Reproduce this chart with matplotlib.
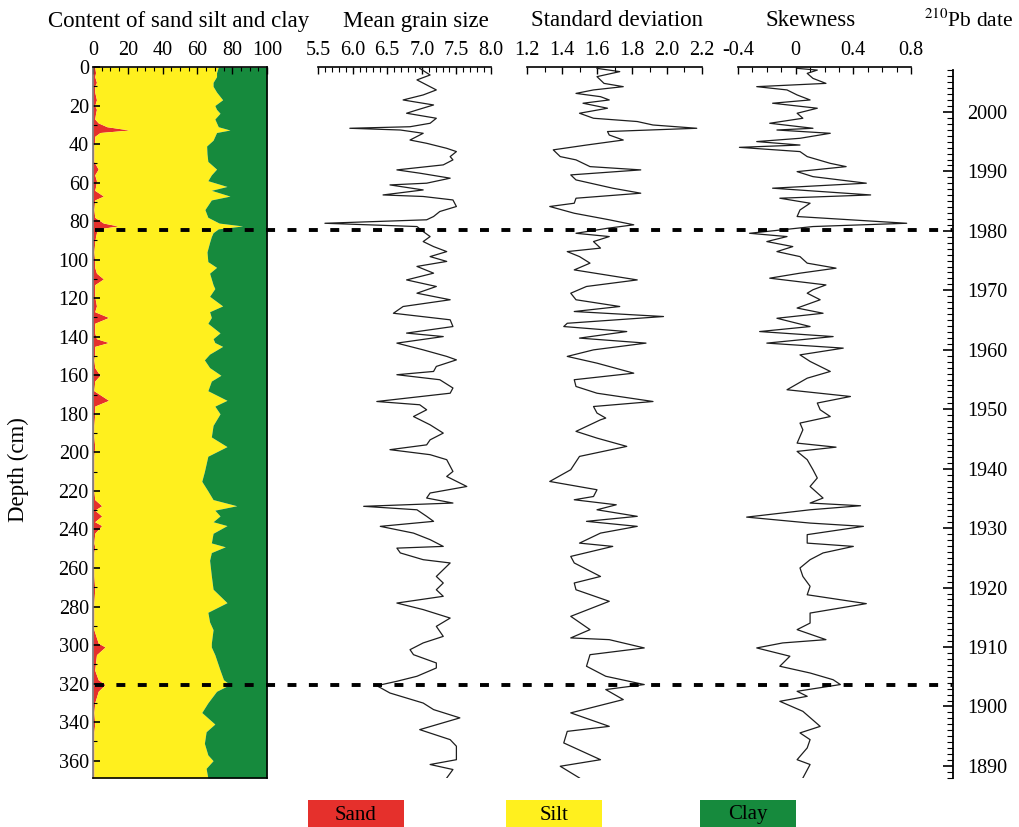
import matplotlib
matplotlib.use('Agg')
import matplotlib.pyplot as plt
from matplotlib.ticker import MultipleLocator
from matplotlib.patches import Rectangle

plt.rcParams['font.family'] = ['Liberation Serif', 'DejaVu Serif']
plt.rcParams['mathtext.fontset'] = 'stix'

# ---------------- data ----------------
depth_comp = [0, 3, 5, 8, 10, 13, 17, 20, 22, 24, 27, 29, 31, 32.7, 34, 36, 38, 41, 45, 49,
              53, 56, 59, 62, 64, 67, 69, 74, 78, 81, 82.5, 84, 86, 88, 91, 96, 101, 104, 107, 110,
              113, 115, 119, 124, 127, 130, 133, 138, 141, 143, 145, 149, 152, 156, 160, 163, 168, 173, 176, 180,
              186, 192, 197, 202, 210, 215, 220, 224.5, 227.7, 230, 233, 236, 238, 242, 247, 249, 252, 256, 264, 271,
              278, 283, 288, 292, 299, 301, 305, 313, 318, 320.5, 324, 330, 335, 341, 345, 351, 357, 360, 364, 369]
sand = [1, 1.5, 1, 2, 1, 1, 2, 1, 2, 1.5, 1, 3, 8, 21, 4, 1, 1, 0.5, 0.5, 0.5,
        3, 1, 2, 1.5, 1, 6, 1, 0.5, 1, 6, 14.5, 3, 2, 1.5, 1, 0.5, 1, 1, 2, 6,
        1, 1, 1, 2, 1, 9, 1, 1, 2, 9, 1, 1, 0.5, 1, 4, 1, 0.5, 9, 1, 1,
        0.5, 0.5, 1, 0.5, 0.5, 0.5, 0.5, 1, 5, 1, 5, 1, 5, 1, 0.5, 1, 0.5, 0.5, 0.5, 1,
        0.5, 0.5, 0.5, 0.5, 3, 7, 2, 1, 3, 7, 3, 1, 0.5, 1, 0.5, 0.5, 0.5, 0.5, 0.5, 0.5]
silt = [71, 69.5, 70, 67, 68, 70, 72.5, 69, 69, 71.5, 69, 68, 64, 57.7, 67, 69, 68, 64.8, 65, 65.5,
        68, 67, 64, 75.5, 67, 72.7, 67, 63.8, 65, 66.5, 71.5, 69, 67, 66.5, 66, 65, 65, 70, 65, 62,
        68, 69, 66, 72.5, 66, 59, 65, 72, 67, 61, 73.5, 66, 63.5, 66, 69.5, 67, 65.5, 68, 69, 72,
        68.5, 67.5, 76, 65.5, 63.5, 62, 65.5, 68, 77.6, 69, 68, 68, 72, 68, 67.5, 75, 67.5, 66.5, 67.5, 68,
        76.5, 65.5, 66.5, 68.5, 65, 61, 68, 72, 72, 71.7, 68, 65, 62, 69, 64.5, 63.5, 65.5, 68.5, 64.5, 65.5]
clay = [28, 29, 29, 31, 31, 29, 25.5, 30, 29, 27, 30, 29, 28, 21.3, 29, 30, 31, 34.7, 34.5, 34,
        29, 32, 34, 23, 32, 21.3, 32, 35.7, 34, 27.5, 14, 28, 31, 32, 33, 34.5, 34, 29, 33, 32,
        31, 30, 33, 25.5, 33, 32, 34, 27, 31, 30, 25.5, 33, 36, 33, 26.5, 32, 34, 23, 30, 27,
        31, 32, 23, 34, 36, 37.5, 34, 31, 17.4, 30, 27, 31, 23, 31, 32, 24, 32, 33, 32, 31,
        23, 34, 33, 31, 32, 32, 30, 27, 25, 21.3, 29, 34, 37.5, 30, 35, 36, 34, 31, 35, 34]

depth_mean = [0.7, 4.15, 6.7, 9.3, 11.9, 14.5, 17.1, 18.0, 19.7, 22.3, 24.0, 26.6, 29.2, 31.0, 31.8, 32.7,
              34.4, 37.9, 39.6, 42.2, 43.9, 46.5, 48.2, 50.8, 53.4, 55.1, 57.7, 60.3, 61.2, 63.8, 66.4, 67.2,
              69.0, 72.4, 75.0, 77.6, 79.3, 81.1, 82.8, 85.4, 88.0, 90.6, 93.2, 95.8, 98.4, 100.9, 103.5, 107.0,
              110.5, 113.9, 117.4, 120.8, 124.3, 127.8, 131.2, 134.7, 138.1, 139.9, 143.3, 146.8, 150.2, 152.0,
              155.4, 158.0, 159.7, 162.3, 166.6, 169.3, 173.6, 175.3, 177.9, 181.4, 185.7, 190.0, 193.5, 196.1,
              198.6, 201.2, 203.8, 209.9, 212.5, 217.7, 221.1, 223.7, 226.3, 228.0, 229.8, 233.2, 235.8, 238.4,
              241.9, 245.3, 248.8, 249.7, 252.2, 255.7, 257.4, 260.9, 264.4, 267.8, 271.3, 274.7, 278.2, 281.6,
              286.0, 290.3, 295.5, 298.9, 302.4, 305.0, 309.3, 311.9, 316.2, 318.8, 321.1, 324.9, 330.1, 333.5,
              337.8, 343.9, 349.1, 352.5, 359.5, 362.0, 364.6, 369]
mean_size = [6.97, 7.12, 6.93, 7.07, 7.21, 7.02, 6.73, 6.88, 7.17, 6.93, 6.78, 7.21, 7.12, 6.83, 5.96, 6.69,
             7.02, 6.83, 7.07, 7.36, 7.50, 7.41, 7.45, 7.31, 6.64, 6.97, 7.41, 7.07, 6.54, 7.02, 6.44, 7.02,
             7.45, 7.50, 7.26, 7.17, 7.07, 5.60, 6.93, 7.02, 7.12, 7.02, 7.17, 7.36, 7.12, 7.36, 6.93, 7.17,
             6.78, 7.21, 6.93, 7.41, 6.73, 6.59, 7.41, 7.45, 6.78, 7.31, 6.64, 7.02, 7.36, 7.50,
             7.21, 7.17, 6.64, 7.26, 7.45, 7.41, 6.35, 6.97, 7.07, 6.88, 7.12, 7.31, 7.12, 7.07,
             6.54, 7.12, 7.36, 7.45, 7.36, 7.65, 7.12, 7.07, 7.45, 6.16, 6.93, 7.07, 7.17, 6.40,
             6.88, 7.12, 7.31, 6.64, 6.69, 7.02, 7.41, 7.31, 7.21, 7.31, 7.21, 7.31, 6.64, 7.02,
             7.41, 7.21, 7.31, 7.02, 6.83, 6.88, 7.21, 7.21, 6.93, 6.64, 6.35, 6.54, 7.02, 7.17,
             7.55, 6.97, 7.41, 7.50, 7.50, 7.12, 7.45, 7.36]

depth_std = [0.7, 2.4, 5.0, 8.5, 10.2, 11.9, 13.7, 15.4, 17.1, 18.8, 21.4, 24.0, 26.6, 28.3, 30.1, 31.8,
             33.5, 35.3, 37.9, 40.5, 43.0, 46.5, 48.2, 51.7, 53.4, 56.0, 58.6, 62.9, 65.5, 68.1, 70.7, 72.4,
             75.9, 79.3, 81.9, 83.7, 86.3, 88.0, 90.6, 94.0, 95.8, 98.4, 101.8, 105.3, 110.5, 113.9, 117.4, 120.8,
             124.3, 126.9, 129.5, 133.0, 134.7, 137.3, 140.7, 143.3, 146.8, 150.2, 153.7, 158.9, 162.3, 165.8,
             169.3, 173.6, 176.2, 179.6, 182.2, 183.1, 189.1, 192.6, 196.9, 202.1, 209.0, 215.1, 219.4, 222.9,
             224.6, 227.2, 229.8, 233.2, 235.8, 238.4, 241.9, 247.1, 248.8, 254.0, 257.4, 264.4, 267.8, 271.3,
             277.3, 285.1, 292.0, 296.3, 297.2, 301.5, 305.0, 311.0, 316.2, 320.5, 323.1, 328.3, 335.2, 342.2,
             344.8, 350.8, 359.5, 362.9, 369]
std_dev = [1.60, 1.73, 1.60, 1.64, 1.75, 1.58, 1.48, 1.62, 1.67, 1.52, 1.66, 1.50, 1.58, 1.83, 1.92, 2.17,
           1.66, 1.67, 1.75, 1.54, 1.35, 1.39, 1.48, 1.56, 1.85, 1.45, 1.48, 1.69, 1.85, 1.48, 1.47, 1.33,
           1.47, 1.67, 1.81, 1.66, 1.48, 1.67, 1.58, 1.62, 1.43, 1.50, 1.56, 1.47, 1.83, 1.54, 1.45, 1.48,
           1.73, 1.47, 1.98, 1.43, 1.41, 1.77, 1.50, 1.88, 1.58, 1.43, 1.60, 1.81, 1.47, 1.48,
           1.60, 1.92, 1.58, 1.60, 1.65, 1.62, 1.48, 1.60, 1.77, 1.50, 1.45, 1.33, 1.60, 1.58,
           1.47, 1.71, 1.60, 1.83, 1.54, 1.83, 1.62, 1.50, 1.69, 1.45, 1.47, 1.62, 1.47, 1.48,
           1.67, 1.45, 1.56, 1.45, 1.67, 1.87, 1.56, 1.54, 1.65, 1.87, 1.65, 1.75, 1.45, 1.67,
           1.43, 1.41, 1.62, 1.39, 1.50]

depth_skew = [0.7, 1.6, 3.3, 5.9, 8.5, 10.2, 11.9, 14.5, 17.1, 18.8, 21.4, 24.0, 26.6, 29.2, 31.8, 32.7,
              34.4, 37.0, 38.7, 40.5, 41.7, 43.9, 46.5, 50.0, 51.7, 54.3, 56.9, 60.3, 62.9, 66.4, 68.1, 70.7,
              74.2, 77.6, 81.1, 82.8, 86.3, 88.0, 90.6, 93.2, 95.8, 98.4, 101.8, 104.4, 107.0, 109.6, 113.1, 115.6,
              117.4, 120.8, 125.1, 127.8, 130.4, 134.7, 137.3, 139.9, 143.3, 145.9, 149.4, 152.8, 158.0, 161.5,
              167.5, 171.0, 174.4, 177.9, 181.4, 184.8, 188.3, 195.2, 197.3, 199.5, 203.8, 209.0, 213.3, 217.7,
              223.7, 226.3, 227.7, 229.8, 233.6, 236.7, 238.4, 242.7, 247.1, 248.8, 252.2, 255.7, 260.0, 264.4,
              269.5, 273.9, 278.5, 283.4, 288.6, 292.0, 297.2, 298.9, 301.5, 305.8, 311.0, 314.5, 318.0, 320.5,
              324.0, 326.6, 329.2, 334.4, 342.2, 345.6, 349.1, 353.4, 359.5, 362.0, 369]
skewness = [0.01, 0.15, 0.08, 0.12, 0.21, -0.27, -0.06, 0.01, 0.10, -0.16, 0.15, 0.01, 0.05, -0.18, 0.12, -0.13,
            0.24, 0.03, -0.27, 0.03, -0.39, 0.03, 0.08, 0.24, 0.35, 0.01, 0.12, 0.49, -0.16, 0.52, -0.11, 0.10,
            0.03, 0.01, 0.77, 0.12, -0.32, -0.06, -0.20, -0.02, -0.13, 0.03, 0.08, 0.28, 0.03, -0.18, 0.21, 0.12,
            0.08, 0.17, 0.01, 0.19, -0.13, 0.10, -0.25, 0.26, -0.20, 0.33, 0.03, 0.10, 0.24, 0.08,
            -0.06, 0.38, 0.15, 0.17, 0.24, 0.03, 0.05, 0.01, 0.28, 0.01, 0.08, 0.12, 0.15, 0.10,
            0.19, 0.10, 0.45, 0.10, -0.34, 0.10, 0.47, 0.08, 0.08, 0.40, 0.19, 0.10, 0.03, 0.05,
            0.10, 0.08, 0.49, 0.10, 0.10, 0.01, 0.21, -0.09, -0.27, -0.04, -0.11, 0.10, 0.26, 0.31,
            0.01, 0.08, -0.11, 0.05, 0.17, 0.03, 0.10, 0.08, 0.01, 0.10, 0.05]

event_depths = [84.5, 320.5]

comp_ticks = [0, 20, 40, 60, 80, 100]
depth_ticks = list(range(0, 361, 20))
mean_ticks = [5.5, 6.0, 6.5, 7.0, 7.5, 8.0]
mean_labels = ['5.5', '6.0', '6.5', '7.0', '7.5', '8.0']
std_ticks = [1.2, 1.4, 1.6, 1.8, 2.0, 2.2]
std_labels = ['1.2', '1.4', '1.6', '1.8', '2.0', '2.2']
skew_ticks = [-0.4, 0, 0.4, 0.8]
skew_labels = ['-0.4', '0', '0.4', '0.8']
date_ticks = [1890, 1900, 1910, 1920, 1930, 1940, 1950, 1960, 1970, 1980, 1990, 2000]

legend_labels = ['Sand', 'Silt', 'Clay']

RED = '#e5302c'
YEL = '#fff01e'
GRN = '#168a3d'

TICK_FS = 14.5
TITLE_FS = 16.5

# ---------------- layout ----------------
W, H = 1019, 827
fig = plt.figure(figsize=(W / 100, H / 100), dpi=100)


def rect(l, r, t, b):
    return [l / W, 1 - b / H, (r - l) / W, (b - t) / H]


DMAX = 369
TOP, BOT = 67, 778

# composition panel
ax1 = fig.add_axes(rect(93, 267, TOP, BOT))
cum1 = [a + b for a, b in zip(sand, silt)]
cum2 = [a + b for a, b in zip(cum1, clay)]
ax1.fill_betweenx(depth_comp, 0, sand, color=RED, lw=0)
ax1.fill_betweenx(depth_comp, sand, cum1, color=YEL, lw=0)
ax1.fill_betweenx(depth_comp, cum1, cum2, color=GRN, lw=0)
ax1.set_xlim(0, 100)
ax1.set_ylim(DMAX, 0)
ax1.xaxis.tick_top()
ax1.set_xticks(comp_ticks)
ax1.xaxis.set_minor_locator(MultipleLocator(5))
ax1.tick_params(axis='x', which='both', direction='in', top=True, bottom=False,
                labelsize=TICK_FS, pad=5)
ax1.tick_params(axis='x', which='major', length=5, width=1)
ax1.tick_params(axis='x', which='minor', length=3, width=0.8)
ax1.set_yticks(depth_ticks)
ax1.yaxis.set_minor_locator(MultipleLocator(10))
ax1.tick_params(axis='y', which='both', direction='in', left=True, right=False,
                labelsize=TICK_FS, pad=3)
ax1.tick_params(axis='y', which='major', length=5, width=1.2)
ax1.tick_params(axis='y', which='minor', length=3, width=0.8)
for s in ['top', 'right', 'bottom']:
    ax1.spines[s].set_color('black')
    ax1.spines[s].set_linewidth(1.2)
ax1.spines['left'].set_color('#777777')
ax1.spines['left'].set_linewidth(1.2)


def line_panel(l, r, depths, vals, xlim, ticks, labels):
    ax = fig.add_axes(rect(l, r, TOP, BOT), facecolor='none')
    ax.plot(vals, depths, color='#1e1e1e', lw=0.9)
    ax.set_xlim(*xlim)
    ax.set_ylim(DMAX, 0)
    for s in ['left', 'right', 'bottom']:
        ax.spines[s].set_visible(False)
    ax.spines['top'].set_linewidth(1.2)
    ax.xaxis.tick_top()
    ax.set_xticks(ticks)
    ax.set_xticklabels(labels)
    ax.xaxis.set_minor_locator(MultipleLocator(0.1))
    ax.tick_params(axis='x', which='both', direction='in', top=True, bottom=False,
                   labelsize=TICK_FS, pad=5)
    ax.tick_params(axis='x', which='major', length=5, width=1)
    ax.tick_params(axis='x', which='minor', length=3.5, width=0.8)
    ax.set_yticks([])
    return ax


line_panel(318, 491, depth_mean, mean_size, (5.5, 8.0), mean_ticks, mean_labels)
line_panel(527, 702, depth_std, std_dev, (1.2, 2.2), std_ticks, std_labels)
line_panel(738, 911, depth_skew, skewness, (-0.4, 0.8), skew_ticks, skew_labels)

# 210Pb date axis
axd = fig.add_axes(rect(952, 953, 70, BOT), facecolor='none')
axd.set_ylim(1887.97, 2007.06)
for s in ['left', 'top', 'bottom']:
    axd.spines[s].set_visible(False)
axd.spines['right'].set_linewidth(1.3)
axd.set_xticks([])
axd.yaxis.tick_right()
axd.set_yticks(date_ticks)
axd.yaxis.set_minor_locator(MultipleLocator(1))
axd.tick_params(axis='y', which='both', direction='in', right=True, left=False,
                labelsize=TICK_FS, pad=10)
axd.tick_params(axis='y', which='major', length=7, width=1.2)
axd.tick_params(axis='y', which='minor', length=4, width=0.8)

# dashed event lines
axo = fig.add_axes(rect(95, 952, TOP, BOT), facecolor='none')
axo.set_xlim(0, 1)
axo.set_ylim(DMAX, 0)
axo.axis('off')
for d in event_depths:
    axo.plot([0, 1], [d, d], color='black', lw=2.8, ls=(0, (2.3, 3.2)),
             dash_capstyle='butt')

# titles
title_y = 1 - 21 / H
fig.text(179 / W, title_y, 'Content of sand silt and clay', ha='center', va='center', fontsize=TITLE_FS)
fig.text(416 / W, title_y, 'Mean grain size', ha='center', va='center', fontsize=TITLE_FS)
fig.text(617 / W, title_y, 'Standard deviation', ha='center', va='center', fontsize=TITLE_FS)
fig.text(811 / W, title_y, 'Skewness', ha='center', va='center', fontsize=TITLE_FS)
fig.text(1013 / W, title_y, r'$^{210}$Pb date', ha='right', va='center', fontsize=15.5)
fig.text(18 / W, 1 - 470 / H, 'Depth (cm)', rotation=90, ha='center', va='center', fontsize=TITLE_FS)

# legend
for lab, col, lx in zip(legend_labels, [RED, YEL, GRN], [308, 506, 700]):
    fig.patches.append(Rectangle((lx / W, 0), 96 / W, 27 / H, transform=fig.transFigure,
                                 facecolor=col, edgecolor='none'))
    fig.text((lx + 48) / W, 1 - 815 / H, lab, ha='center', va='center', fontsize=15)

fig.savefig('out.png', dpi=100)
